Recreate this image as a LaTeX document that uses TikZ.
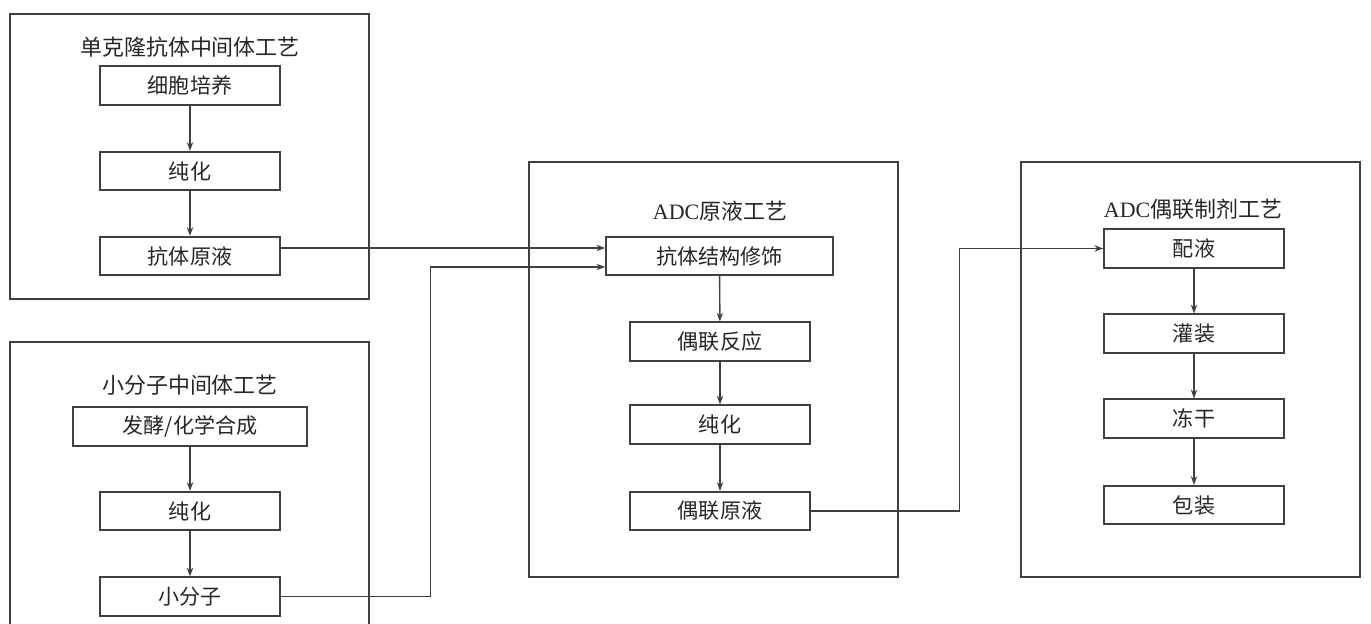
\documentclass[tikz,border=0pt]{standalone}
\usepackage{fontspec}
\setmainfont{Liberation Serif}
\newfontfamily\cjk{Noto Sans CJK SC}
\usepackage{tikz}
\usetikzlibrary{arrows.meta,calc}
\definecolor{linegray}{RGB}{64,64,64}
\tikzset{
  stepbox/.style={draw=linegray, line width=0.9pt, minimum height=0.77cm, minimum width=3.6cm,
    inner sep=0pt, font=\cjk\fontsize{12}{14}\selectfont, text=black!85},
  procframe/.style={draw=linegray, line width=0.9pt},
  grouptitle/.style={font=\cjk\fontsize{12.5}{14}\selectfont, text=black!85},
  flow/.style={draw=linegray, line width=0.8pt, -{Stealth[length=5pt,width=3.6pt]}},
}

\begin{document}
\begin{tikzpicture}[x=0.02cm, y=-0.02cm]
\useasboundingbox (0,0) rectangle (1371,624);
\clip (0,0) rectangle (1371,624);
% Process frames
\draw[procframe] (10,14) rectangle (369,299);
\draw[procframe] (10,342) rectangle (369,660);
\draw[procframe] (529,162) rectangle (898,577);
\draw[procframe] (1021,162) rectangle (1360,577);
% Monoclonal antibody intermediate
\node[grouptitle] (mabtitle) at (190,47) {单克隆抗体中间体工艺};
\node[stepbox] (m1) at (190,85.5) {细胞培养};
\node[stepbox] (m2) at (190,171) {纯化};
\node[stepbox] (m3) at (190,256) {抗体原液};
% Small molecule intermediate
\node[grouptitle] (smtitle) at (190,385) {小分子中间体工艺};
\node[stepbox, minimum width=4.68cm] (s1) at (190,426.5) {发酵/化学合成};
\node[stepbox] (s2) at (190,511) {纯化};
\node[stepbox] (s3) at (190,596.5) {小分子};
% ADC drug substance
\node[grouptitle] (adctitle) at (720,211) {{\rmfamily ADC}原液工艺};
\node[stepbox, minimum width=4.54cm] (a1) at (719.5,256) {抗体结构修饰};
\node[stepbox] (a2) at (720,341.5) {偶联反应};
\node[stepbox] (a3) at (720,424.5) {纯化};
\node[stepbox] (a4) at (720,511) {偶联原液};
% ADC drug product
\node[grouptitle] (dptitle) at (1193,209) {{\rmfamily ADC}偶联制剂工艺};
\node[stepbox] (f1) at (1194,248.5) {配液};
\node[stepbox] (f2) at (1194,333.5) {灌装};
\node[stepbox] (f3) at (1194,418.5) {冻干};
\node[stepbox] (f4) at (1194,505) {包装};
% Flow inside frames
\foreach \a/\b in {m1/m2,m2/m3,s1/s2,s2/s3,a1/a2,a2/a3,a3/a4,f1/f2,f2/f3,f3/f4} {
    \draw[flow] (\a) -- (\b);
}
% Flow between frames
\draw[flow] ([yshift=0.16cm]m3.east) -- ([yshift=0.16cm]a1.west);
\draw[flow] (s3.east) -- ++(150,0) |- ([yshift=-0.22cm]a1.west);
\draw[flow] (a4.east) -- ++(149,0) |- (f1.west);
\end{tikzpicture}
\end{document}
